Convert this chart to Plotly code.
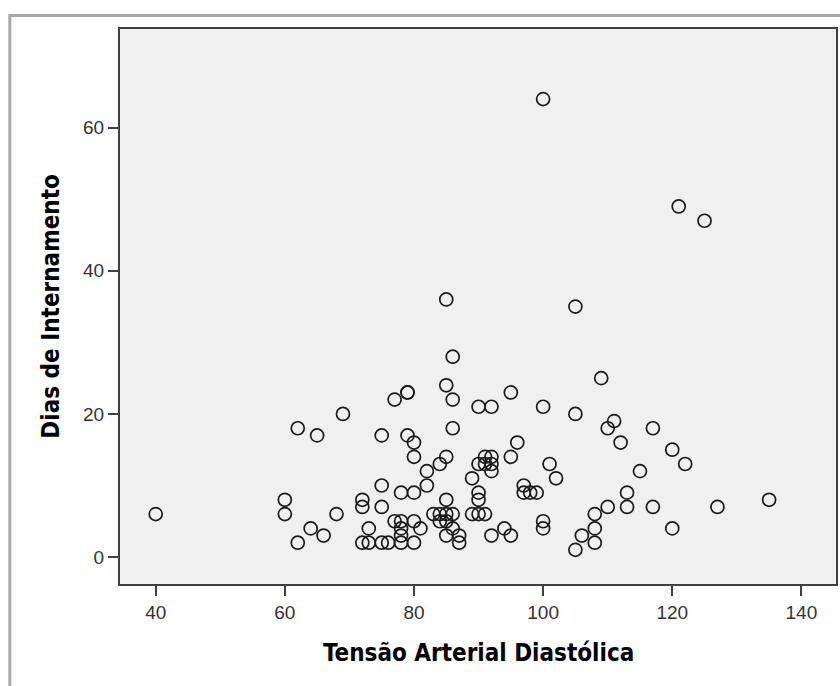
import plotly.graph_objects as go

# Tensão Arterial Diastólica (x) and Dias de Internamento (y)
tensao = [
    100, 121, 125, 85, 105, 86, 109, 85, 79, 79, 95, 77, 86, 90, 92, 100,
    69, 105, 111, 62, 86, 110, 117, 65, 75, 79, 80, 96, 112, 120,
    80, 85, 91, 92, 95,
    84, 90, 91, 92, 101, 122,
    82, 92, 115,
    89, 102,
    75, 82, 97,
    78, 80, 90, 97, 98, 99, 113,
    60, 72, 85, 90, 135,
    72, 75, 110, 113, 117, 127,
    40, 60, 68, 83, 84, 85, 86, 89, 90, 91, 108,
    77, 78, 80, 84, 85, 100,
    64, 73, 78, 81, 86, 94, 100, 108, 120,
    66, 78, 85, 87, 92, 95, 106,
    62, 72, 73, 75, 76, 78, 80, 87, 108,
    105,
]
dias = [
    64, 49, 47, 36, 35, 28, 25, 24, 23, 23, 23, 22, 22, 21, 21, 21,
    20, 20, 19, 18, 18, 18, 18, 17, 17, 17, 16, 16, 16, 15,
    14, 14, 14, 14, 14,
    13, 13, 13, 13, 13, 13,
    12, 12, 12,
    11, 11,
    10, 10, 10,
    9, 9, 9, 9, 9, 9, 9,
    8, 8, 8, 8, 8,
    7, 7, 7, 7, 7, 7,
    6, 6, 6, 6, 6, 6, 6, 6, 6, 6, 6,
    5, 5, 5, 5, 5, 5,
    4, 4, 4, 4, 4, 4, 4, 4, 4,
    3, 3, 3, 3, 3, 3, 3,
    2, 2, 2, 2, 2, 2, 2, 2, 2,
    1,
]

x_ticks = [40, 60, 80, 100, 120, 140]
y_ticks = [0, 20, 40, 60]
x_title = "Tensão Arterial Diastólica"
y_title = "Dias de Internamento"

fig = go.Figure()
fig.add_trace(go.Scatter(
    x=tensao, y=dias, mode="markers",
    marker=dict(symbol="circle-open", size=13, color="#1a1a1a",
                line=dict(width=1.7, color="#1a1a1a")),
    hoverinfo="x+y", showlegend=False,
))

W, H = 840, 686
L, R, T, B = 120, 2, 29, 102
pw, ph = W - L - R, H - T - B

def px_to_paper_x(px):
    return (px - L) / pw

def py_to_paper_y(py):
    return (H - B - py) / ph

axis_common = dict(
    showline=True, mirror=True, linecolor="#404040", linewidth=2,
    ticks="outside", ticklen=10, tickwidth=1.6, tickcolor="#404040",
    showgrid=False, zeroline=False,
    tickfont=dict(family="Liberation Sans, Arial, sans-serif", size=19, color="#333333"),
)

title_font = dict(family="DejaVu Sans Condensed, Liberation Sans Narrow, Liberation Sans, sans-serif",
                  size=24, color="black")

fig.update_layout(
    width=W, height=H,
    margin=dict(l=L, r=R, t=T, b=B),
    paper_bgcolor="white",
    plot_bgcolor="#f0f0f0",
    xaxis=dict(range=[34.47, 145.36], tickvals=x_ticks,
               ticktext=[str(v) for v in x_ticks], **axis_common),
    yaxis=dict(range=[-3.77, 73.8], tickvals=y_ticks,
               ticktext=[str(v) for v in y_ticks], **axis_common),
    annotations=[
        dict(text="<b>" + x_title + "</b>", xref="paper", yref="paper",
             x=px_to_paper_x(479), y=py_to_paper_y(653),
             xanchor="center", yanchor="middle", showarrow=False, font=title_font),
        dict(text="<b>" + y_title + "</b>", xref="paper", yref="paper",
             x=px_to_paper_x(50), y=py_to_paper_y(306.5), textangle=-90,
             xanchor="center", yanchor="middle", showarrow=False, font=title_font),
    ],
    shapes=[dict(
        type="rect", xref="paper", yref="paper",
        x0=px_to_paper_x(9.5), x1=px_to_paper_x(900),
        y0=py_to_paper_y(800), y1=py_to_paper_y(15.5),
        line=dict(color="#a8a8a8", width=3), fillcolor="rgba(0,0,0,0)", layer="below",
    )],
)

fig.write_html("out.html")
